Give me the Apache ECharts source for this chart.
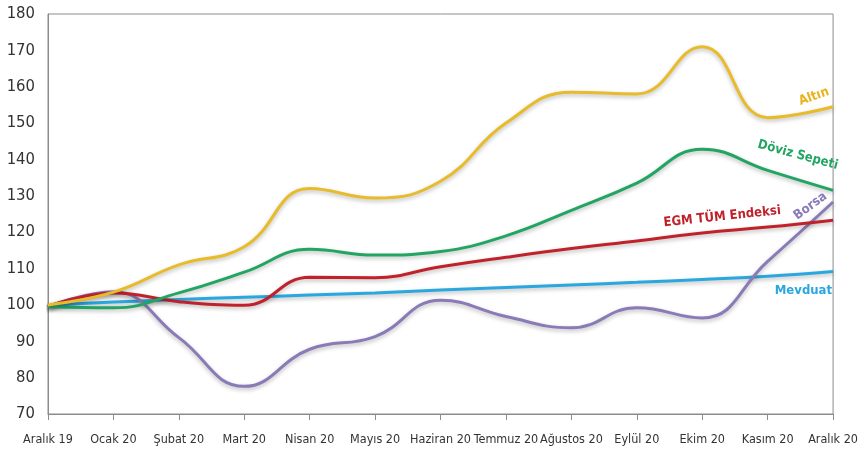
<!DOCTYPE html>
<html>
<head>
<meta charset="utf-8">
<script src="https://cdn.jsdelivr.net/npm/echarts@6/dist/echarts.min.js"></script>
<style>
  html, body { margin: 0; padding: 0; background: #fff; }
  #chart { width: 861px; height: 454px; }
</style>
</head>
<body>
<div id="chart"></div>
<script>
// Monthly index values (Aralık 2019 = 100)
const months = ['Aralık 19', 'Ocak 20', 'Şubat 20', 'Mart 20', 'Nisan 20', 'Mayıs 20', 'Haziran 20',
  'Temmuz 20', 'Ağustos 20', 'Eylül 20', 'Ekim 20', 'Kasım 20', 'Aralık 20'];

const altin   = [100, 103.5, 111, 116, 132, 129.4, 134, 150, 158.5, 158, 171, 151.5, 154.5];
const doviz   = [99.5, 99.2, 103.3, 109, 115.3, 113.7, 114.7, 119, 126, 133.5, 142.8, 137, 131.5];
const egm     = [99.5, 103.3, 100.9, 99.9, 107.6, 107.5, 110.5, 113.1, 115.5, 117.6, 119.8, 121.4, 123.3];
const borsa   = [99.5, 103.6, 91, 77.6, 87.8, 91.3, 101.3, 96.8, 93.7, 99.2, 96.4, 112, 128.3];
const mevduat = [99.8, 100.8, 101.5, 102.1, 102.7, 103.3, 104.1, 104.8, 105.5, 106.2, 107, 107.9, 109.2];

const yTicks = { min: 70, max: 180, step: 10 };

const labelFont = '"DejaVu Sans Condensed", "Liberation Sans Narrow", sans-serif';

function lineSeries(name, data, color, endLabel) {
  return {
    name: name,
    type: 'line',
    data: data,
    smooth: 0.45,
    symbol: 'none',
    lineStyle: {
      color: color,
      width: 3,
      shadowColor: 'rgba(0,0,0,0.28)',
      shadowBlur: 4,
      shadowOffsetY: 2
    },
    itemStyle: { color: color },
    endLabel: Object.assign({
      show: true,
      formatter: name,
      align: 'right',
      verticalAlign: 'middle',
      distance: 0,
      color: color,
      fontFamily: labelFont,
      fontWeight: 'bold',
      fontSize: 13
    }, endLabel)
  };
}

const chart = echarts.init(document.getElementById('chart'), null, { renderer: 'canvas' });

chart.setOption({
  animation: false,
  backgroundColor: '#ffffff',
  grid: {
    left: 48, right: 24, top: 14, bottom: 40,
    show: true,
    borderColor: '#8c8c8c',
    borderWidth: 1,
    containLabel: false
  },
  xAxis: {
    type: 'category',
    data: months,
    boundaryGap: false,
    axisLine: { lineStyle: { color: '#8c8c8c', width: 1 } },
    axisTick: { show: true, alignWithLabel: true, length: 6, lineStyle: { color: '#8c8c8c' } },
    axisLabel: {
      color: '#333',
      fontFamily: labelFont,
      fontSize: 12.5,
      margin: 19,
      interval: 0
    },
    splitLine: { show: false }
  },
  yAxis: {
    type: 'value',
    min: yTicks.min,
    max: yTicks.max,
    interval: yTicks.step,
    axisLine: { show: true, lineStyle: { color: '#8c8c8c', width: 1 } },
    axisTick: { show: false },
    splitLine: { show: false },
    axisLabel: {
      color: '#333',
      fontFamily: labelFont,
      fontSize: 16.5,
      margin: 13
    }
  },
  series: [
    lineSeries('Mevduat', mevduat, '#2aa7df', { offset: [-1, 19], rotate: 0 }),
    lineSeries('Borsa', borsa, '#8a7ab8', { offset: [-2, -10], rotate: 36 }),
    lineSeries('EGM TÜM Endeksi', egm, '#c0222c', { offset: [-51, -15], rotate: 6 }),
    lineSeries('Döviz Sepeti', doviz, '#22a463', { offset: [-2, -25], rotate: -15 }),
    lineSeries('Altın', altin, '#e8bb2a', { offset: [1, -16], rotate: 20, color: '#e8b21a' })
  ]
});
</script>
</body>
</html>
